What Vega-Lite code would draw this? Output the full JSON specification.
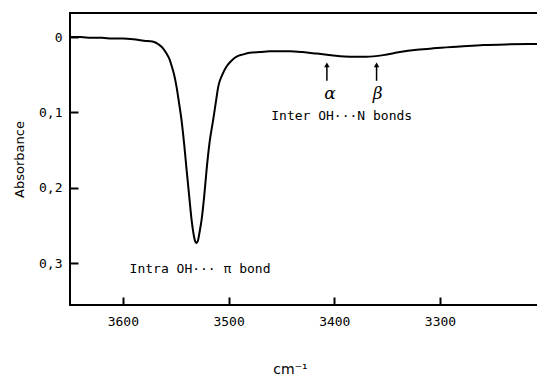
{
  "$schema": "https://vega.github.io/schema/vega-lite/v6.json",
  "autosize": "none",
  "width": 470,
  "height": 292,
  "padding": {"left": 70, "top": 13, "right": 0, "bottom": 74},
  "background": "white",
  "config": {
    "view": {"stroke": "black", "strokeWidth": 2},
    "font": "DejaVu Sans Mono"
  },
  "datasets": {
    "curve": [
      {"w": 3650, "a": 0.0}, {"w": 3640, "a": 0.0}, {"w": 3630, "a": 0.001}, {"w": 3620, "a": 0.001},
      {"w": 3610, "a": 0.002}, {"w": 3600, "a": 0.002}, {"w": 3590, "a": 0.003}, {"w": 3580, "a": 0.005},
      {"w": 3572, "a": 0.006}, {"w": 3566, "a": 0.01}, {"w": 3562, "a": 0.015}, {"w": 3558.7, "a": 0.022},
      {"w": 3556, "a": 0.029}, {"w": 3553.9, "a": 0.038}, {"w": 3551.5, "a": 0.05}, {"w": 3549.2, "a": 0.066},
      {"w": 3547, "a": 0.086}, {"w": 3544.5, "a": 0.11}, {"w": 3542, "a": 0.142}, {"w": 3539.7, "a": 0.176},
      {"w": 3537.3, "a": 0.21}, {"w": 3535, "a": 0.242}, {"w": 3533, "a": 0.262}, {"w": 3531.5, "a": 0.271},
      {"w": 3530.3, "a": 0.273}, {"w": 3529, "a": 0.27}, {"w": 3527.5, "a": 0.259}, {"w": 3525.5, "a": 0.242},
      {"w": 3523, "a": 0.21}, {"w": 3520.8, "a": 0.176}, {"w": 3518, "a": 0.14}, {"w": 3514.6, "a": 0.11},
      {"w": 3512, "a": 0.086}, {"w": 3509.8, "a": 0.066}, {"w": 3506, "a": 0.05}, {"w": 3501.9, "a": 0.039},
      {"w": 3497, "a": 0.031}, {"w": 3492.4, "a": 0.026}, {"w": 3486, "a": 0.023}, {"w": 3479.9, "a": 0.021},
      {"w": 3470, "a": 0.02}, {"w": 3460.9, "a": 0.019}, {"w": 3450, "a": 0.019}, {"w": 3442, "a": 0.019},
      {"w": 3430, "a": 0.02}, {"w": 3416.7, "a": 0.022}, {"w": 3401, "a": 0.0245}, {"w": 3385, "a": 0.026},
      {"w": 3370, "a": 0.026}, {"w": 3353.7, "a": 0.024}, {"w": 3338, "a": 0.02}, {"w": 3322, "a": 0.017},
      {"w": 3306.4, "a": 0.015}, {"w": 3281, "a": 0.0126}, {"w": 3259, "a": 0.0106}, {"w": 3234, "a": 0.0097},
      {"w": 3206, "a": 0.0093}
    ],
    "arrows": [
      {"w": 3407, "a": 0.037, "a2": 0.058},
      {"w": 3360, "a": 0.037, "a2": 0.058}
    ],
    "greek": [
      {"w": 3404, "a": 0.0755, "t": "α"},
      {"w": 3359, "a": 0.0755, "t": "β"}
    ],
    "labels": [
      {"w": 3393, "a": 0.104, "t": "Inter OH···N bonds"},
      {"w": 3527, "a": 0.307, "t": "Intra OH··· π bond"}
    ]
  },
  "encoding": {
    "x": {
      "field": "w", "type": "quantitative",
      "scale": {"domain": [3205.4, 3650], "reverse": true, "nice": false, "zero": false},
      "axis": {
        "values": [3600, 3500, 3400, 3300], "grid": false, "domain": false, "offset": -8,
        "tickSize": 8, "tickWidth": 2, "tickColor": "black",
        "labelPadding": 10, "labelFontSize": 13, "labelColor": "black", "labelFont": "DejaVu Sans Mono",
        "format": "d",
        "title": "cm⁻¹", "titleFont": "DejaVu Sans", "titleFontWeight": "normal", "titleFontSize": 14,
        "titleColor": "black", "titlePadding": 34, "titleX": 220
      }
    },
    "y": {
      "field": "a", "type": "quantitative",
      "scale": {"domain": [-0.0318, 0.355], "reverse": true, "nice": false, "zero": false},
      "axis": {
        "values": [0, 0.1, 0.2, 0.3], "grid": false, "domain": false, "offset": -8,
        "tickSize": 8, "tickWidth": 2, "tickColor": "black",
        "labelPadding": 8, "labelFontSize": 13, "labelColor": "black", "labelFont": "DejaVu Sans Mono",
        "labelExpr": "replace(format(datum.value, '.1~f'), '.', ',')",
        "title": "Absorbance", "titleFont": "DejaVu Sans", "titleFontWeight": "normal", "titleFontSize": 13,
        "titleColor": "black", "titlePadding": 12
      }
    }
  },
  "layer": [
    {
      "data": {"name": "curve"},
      "mark": {"type": "line", "color": "black", "strokeWidth": 2, "interpolate": "monotone"}
    },
    {
      "data": {"name": "arrows"},
      "mark": {"type": "rule", "color": "black", "strokeWidth": 1.5},
      "encoding": {"y2": {"field": "a2"}}
    },
    {
      "data": {"name": "arrows"},
      "mark": {"type": "point", "shape": "triangle-up", "filled": true, "color": "black", "size": 30, "opacity": 1, "dy": 3},
      "encoding": {"y": {"field": "a", "type": "quantitative"}}
    },
    {
      "data": {"name": "greek"},
      "mark": {"type": "text", "fontSize": 17, "font": "DejaVu Serif", "fontStyle": "italic", "color": "black", "baseline": "middle"},
      "encoding": {"text": {"field": "t"}}
    },
    {
      "data": {"name": "labels"},
      "mark": {"type": "text", "fontSize": 13, "font": "DejaVu Sans Mono", "color": "black", "baseline": "middle"},
      "encoding": {"text": {"field": "t"}}
    }
  ]
}
